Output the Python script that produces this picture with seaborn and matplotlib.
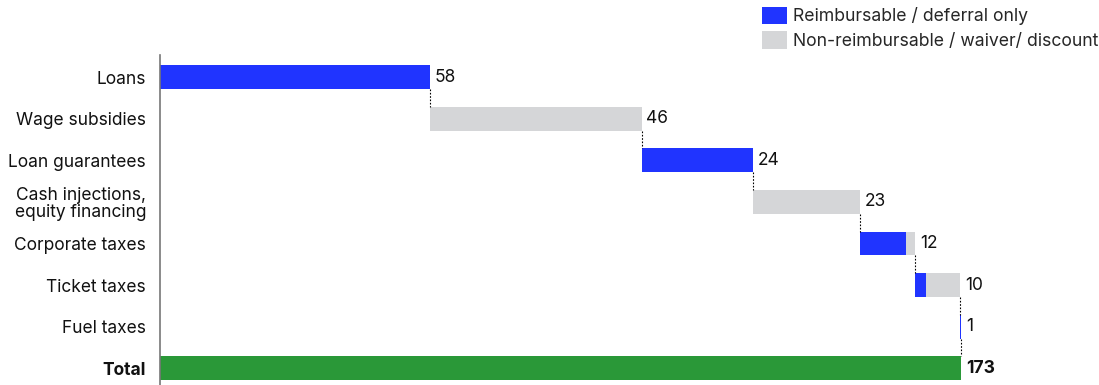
import matplotlib
matplotlib.use("Agg")
import matplotlib.pyplot as plt
import seaborn as sns
import numpy as np
from matplotlib.patches import Patch

categories = ["Loans", "Wage subsidies", "Loan guarantees",
              "Cash injections,\nequity financing", "Corporate taxes",
              "Ticket taxes", "Fuel taxes", "Total"]
reimbursable = [58.0, 0.0, 24.0, 0.0, 9.9, 2.4, 0.25]
non_reimbursable = [0.0, 45.6, 0.0, 22.9, 2.0, 7.3, 0.0]
value_labels = ["58", "46", "24", "23", "12", "10", "1", "173"]

BLUE = "#2034FF"
GREY = "#D5D6D8"
GREEN = "#2A9838"

sns.set_theme(style="white")
plt.rcParams["font.family"] = ["Inter", "DejaVu Sans"]

fig = plt.figure(figsize=(10.99, 3.85), dpi=100)
ax = fig.add_axes([160 / 1099, 0.0, 0.84, 1 - 55 / 385])

steps = np.array(reimbursable) + np.array(non_reimbursable)
starts = np.concatenate([[0], np.cumsum(steps)[:-1]])
ends = np.cumsum(steps)
total = ends[-1]

bw = 0.57
blue_vals = reimbursable + [0.0]
grey_vals = non_reimbursable + [0.0]
green_vals = [0.0] * 7 + [total]

sns.barplot(x=blue_vals, y=categories, orient="h", color=BLUE,
            saturation=1, width=bw, ax=ax, linewidth=0)
for p, s in zip(ax.containers[-1], list(starts) + [0]):
    p.set_x(s)
sns.barplot(x=grey_vals, y=categories, orient="h", color=GREY,
            saturation=1, width=bw, ax=ax, linewidth=0)
for p, s, b in zip(ax.containers[-1], list(starts) + [0], blue_vals):
    p.set_x(s + b)
sns.barplot(x=green_vals, y=categories, orient="h", color=GREEN,
            saturation=1, width=bw, ax=ax, linewidth=0)

# connectors
for i in range(7):
    ax.plot([ends[i], ends[i]], [i + bw / 2, i + 1 - bw / 2],
            ls=(0, (1.5, 1.5)), color="black", lw=0.8)

# value labels
label_x = list(ends) + [total]
for i, (xv, t) in enumerate(zip(label_x, value_labels)):
    ax.text(xv + 1.0, i, t, va="center", ha="left", fontsize=12.5,
            fontweight="bold" if i == 7 else "normal", color="#111111")

ax.set_xlim(0, 199.3 * total / 173)
ax.set_ylim(7.40, -0.53)
ax.set_xlabel("")
ax.set_ylabel("")
ax.xaxis.set_visible(False)
for s in ["top", "right", "bottom"]:
    ax.spines[s].set_visible(False)
ax.spines["left"].set_color("#777777")
ax.spines["left"].set_linewidth(1.2)
ax.tick_params(axis="y", length=0, pad=10, labelsize=12.5, colors="#111111")
for lbl in ax.get_yticklabels():
    if lbl.get_text() == "Total":
        lbl.set_fontweight("bold")
    lbl.set_linespacing(1.0)

handles = [Patch(facecolor=BLUE, edgecolor="none", label="Reimbursable / deferral only"),
           Patch(facecolor=GREY, edgecolor="none", label="Non-reimbursable / waiver/ discount")]
fig.legend(handles=handles, loc="upper left", bbox_to_anchor=(750 / 1099, 1.015),
           frameon=False, fontsize=12.7, handlelength=1.4, handleheight=1.15,
           handletextpad=0.35, labelspacing=0.35, borderpad=0.2)

fig.savefig("out.png", dpi=100)
